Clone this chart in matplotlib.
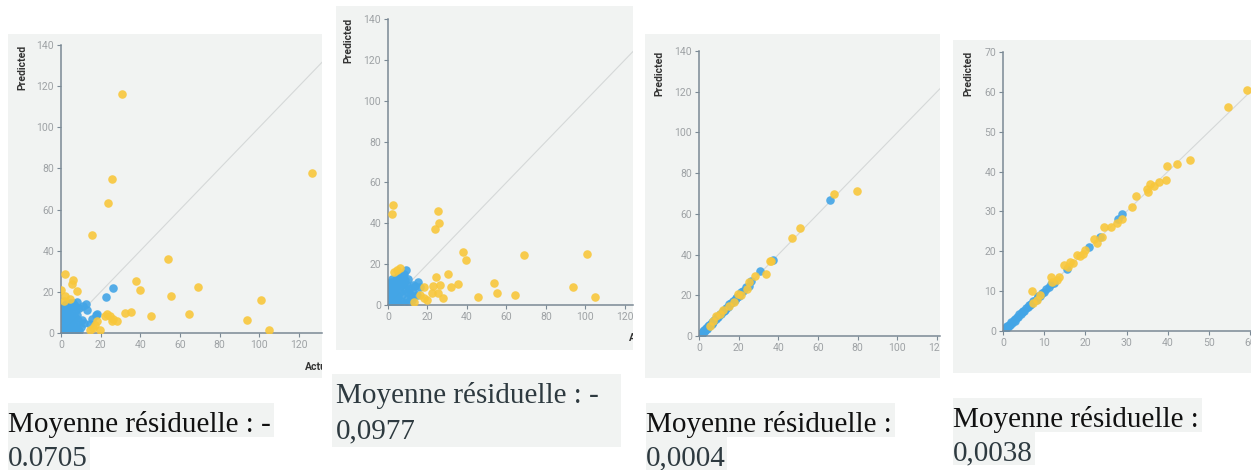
import matplotlib.pyplot as plt
from matplotlib.patches import Rectangle
from matplotlib.transforms import Bbox, TransformedBbox

# panel 1 (actual vs predicted)
p1_yel_x = [30.6, 126.6, 25.7, 23.9, 15.6, 54.1, 2.2, 6.3, 5.5, 8.0,
            0.0, 2.2, 4.7, 1.3, 38.0, 39.7, 69.1, 55.6, 100.8, 64.4,
            45.5, 35.5, 32.2, 93.6, 105.0, 22.2, 24.7, 25.5, 28.0, 18.0,
            19.7, 16.3, 14.7, 23.0, 26.0, 17.0]
p1_yel_y = [116.2, 77.8, 75.0, 63.0, 47.6, 36.0, 28.7, 25.9, 23.8, 20.5,
            21.0, 18.0, 16.4, 15.6, 25.4, 21.0, 22.2, 18.1, 16.0, 9.4,
            8.2, 10.3, 9.8, 6.3, 1.5, 8.2, 8.2, 5.7, 5.7, 5.7,
            1.6, 2.5, 1.6, 9.0, 7.0, 4.0]
p1_blue_x = [0.2, 0.5, 0.9, 1.3, 1.8, 2.2, 2.7, 3.1, 3.6, 4.0,
             4.5, 5.0, 5.6, 6.1, 6.7, 7.3, 7.9, 8.6, 9.3, 10.1,
             0.4, 1.0, 1.6, 2.3, 2.9, 3.5, 4.2, 4.9, 5.7, 6.5,
             7.4, 8.3, 9.2, 10.5, 11.6, 0.7, 1.5, 2.5, 3.4, 4.4,
             5.3, 6.3, 7.2, 8.1, 2.0, 3.8, 5.5, 7.0, 8.8, 12.6,
             14.5, 15.8, 17.5, 18.3, 11.0, 13.2, 22.7, 26.4, 0.3, 1.2]
p1_blue_y = [0.3, 1.2, 0.6, 2.0, 0.9, 3.1, 1.5, 4.2, 2.3, 0.8,
             5.0, 2.8, 1.1, 6.2, 3.4, 0.7, 4.5, 2.1, 1.0, 3.0,
             5.8, 7.4, 9.0, 10.5, 8.2, 11.6, 9.6, 12.8, 10.4, 13.5,
             11.2, 8.6, 12.0, 6.5, 4.8, 11.8, 13.2, 14.0, 12.5, 14.5,
             13.6, 14.8, 12.9, 15.0, 6.8, 7.8, 7.0, 8.0, 6.2, 14.3,
             4.2, 6.8, 8.8, 9.2, 13.0, 11.0, 17.5, 21.9, 9.8, 4.3]

# panel 2
p2_yel_x = [2.7, 2.0, 25.5, 26.0, 23.8, 38.0, 39.7, 68.8, 100.6, 30.5,
            24.2, 35.5, 31.7, 26.3, 22.7, 53.5, 55.4, 64.2, 45.5, 93.5,
            104.8, 28.0, 25.5, 22.2, 19.7, 18.0, 16.0, 13.0, 3.0, 4.7,
            6.0, 18.0]
p2_yel_y = [48.8, 44.5, 46.0, 40.3, 37.4, 25.7, 22.0, 24.6, 25.0, 15.4,
            13.8, 10.1, 8.9, 9.8, 9.3, 10.6, 5.7, 4.7, 4.1, 8.6,
            3.9, 3.3, 5.7, 5.7, 2.4, 8.9, 4.9, 1.6, 16.3, 17.0,
            17.9, 3.3]
p2_blue_x = [0.2, 0.6, 1.0, 1.5, 2.0, 2.5, 3.0, 3.5, 4.1, 4.7,
             5.3, 5.9, 6.5, 7.2, 7.9, 8.6, 9.4, 10.2, 11.0, 12.0,
             0.4, 1.2, 1.9, 2.7, 3.4, 4.2, 5.0, 5.8, 6.7, 7.6,
             8.5, 9.5, 10.6, 12.5, 13.8, 15.2, 16.0, 0.8, 1.7, 2.9,
             4.0, 5.2, 6.3, 7.4, 8.1, 9.0, 3.6, 6.0, 8.0, 11.5,
             0.3, 1.4, 2.2, 14.5, 10.0, 12.8, 4.5, 7.0, 9.8, 1.0]
p2_blue_y = [0.5, 2.0, 0.9, 3.2, 1.4, 4.4, 0.6, 2.6, 5.5, 1.2,
             3.8, 6.6, 2.0, 4.9, 0.8, 7.6, 3.0, 1.5, 5.6, 2.4,
             6.0, 7.8, 9.2, 10.4, 8.4, 11.0, 9.8, 12.2, 10.8, 13.5,
             12.0, 9.6, 8.0, 6.8, 9.2, 11.4, 8.6, 10.6, 4.8, 7.0,
             12.5, 14.0, 13.0, 15.0, 15.4, 17.0, 6.2, 8.8, 10.2, 3.6,
             8.0, 11.5, 12.8, 5.0, 12.5, 10.0, 3.0, 11.8, 6.5, 10.2]

# panel 3
p3_yel_x = [79.9, 67.9, 50.9, 46.7, 35.7, 36.5, 34.0, 28.1, 25.3, 19.9,
            21.0, 17.5, 12.0, 10.5, 8.5, 7.0, 5.5, 24.0, 15.0]
p3_yel_y = [71.3, 69.7, 53.1, 47.9, 36.7, 37.0, 30.5, 29.7, 26.4, 20.7,
            20.0, 16.5, 12.8, 11.0, 9.6, 7.2, 5.0, 23.0, 14.5]
p3_blue_x = [0.1, 0.4, 0.7, 1.0, 1.3, 1.7, 2.0, 2.4, 2.8, 3.2,
             3.6, 4.0, 4.5, 5.0, 5.5, 6.0, 6.6, 7.2, 7.8, 8.4,
             9.0, 9.7, 10.4, 11.1, 11.9, 12.7, 13.5, 14.4, 15.3, 16.2,
             17.1, 18.0, 19.0, 20.0, 21.2, 22.4, 23.6, 25.0, 26.1, 31.0,
             37.1, 66.1, 0.5, 1.5, 2.6, 3.8, 5.2, 6.4, 13.0, 18.5]
p3_blue_y = [0.3, 0.2, 0.9, 0.7, 1.5, 1.4, 2.3, 2.1, 3.0, 3.0,
             3.9, 3.8, 4.7, 4.8, 5.6, 5.9, 6.9, 6.9, 8.0, 8.2,
             9.3, 9.5, 10.7, 10.9, 12.2, 12.4, 13.8, 14.2, 15.6, 16.0,
             17.4, 17.8, 19.3, 19.8, 21.5, 22.2, 23.9, 24.7, 27.0, 31.8,
             37.5, 67.0, 0.8, 1.2, 2.9, 3.5, 5.5, 6.1, 12.8, 18.7]

# panel 4
p4_yel_x = [59.2, 54.6, 45.4, 42.2, 39.9, 39.6, 37.9, 36.7, 35.7, 34.9,
            35.1, 32.3, 31.3, 28.9, 27.6, 26.3, 24.6, 24.0, 22.8, 22.2,
            20.0, 19.4, 18.8, 17.9, 17.1, 16.3, 14.7, 15.7, 13.7, 11.6,
            13.1, 7.0, 7.3, 8.2, 9.0, 12.0]
p4_yel_y = [60.5, 56.1, 42.9, 42.0, 41.4, 37.8, 37.3, 36.5, 36.8, 35.6,
            34.8, 33.9, 31.2, 28.2, 27.2, 26.1, 26.1, 23.7, 22.2, 23.2,
            20.3, 19.3, 18.8, 19.0, 17.0, 17.4, 16.5, 16.1, 13.5, 13.5,
            12.8, 10.0, 6.9, 7.8, 9.0, 12.2]
p4_blue_x = [0.2, 0.5, 0.8, 1.1, 1.4, 1.7, 2.0, 2.3, 2.6, 3.0,
             3.3, 3.6, 4.0, 4.4, 4.8, 5.2, 5.6, 6.0, 6.4, 6.9,
             7.4, 7.9, 8.4, 8.9, 9.4, 9.9, 10.5, 11.1, 11.7, 12.3,
             15.5, 20.9, 23.6, 28.0, 29.0, 1.0, 2.8, 4.6, 6.6, 8.6]
p4_blue_y = [0.4, 0.3, 1.0, 0.9, 1.6, 1.5, 2.2, 2.1, 2.8, 2.9,
             3.5, 3.4, 4.2, 4.2, 5.0, 5.0, 5.8, 5.9, 6.6, 6.8,
             7.6, 7.8, 8.6, 8.8, 9.6, 9.8, 10.6, 11.0, 11.8, 12.1,
             15.5, 21.0, 23.6, 28.2, 29.3, 1.3, 2.6, 4.8, 6.4, 8.9]

captions = [["Moyenne résiduelle : -", "0.0705"],
            ["Moyenne résiduelle : -", "0,0977"],
            ["Moyenne résiduelle :", "0,0004"],
            ["Moyenne résiduelle :", "0,0038"]]

W, H = 1251, 470
plt.rcParams['font.family'] = ['Roboto', 'DejaVu Sans']
fig = plt.figure(figsize=(W / 100, H / 100), dpi=100)

YELLOW = '#f8c73c'
BLUE = '#43a5e6'
BG = '#f1f3f2'
AXC = '#7b8995'


def box(x0, y0, x1, y1, color=BG):
    fig.add_artist(Rectangle((x0 / W, 1 - y1 / H), (x1 - x0) / W, (y1 - y0) / H,
                             transform=fig.transFigure, color=color, lw=0, zorder=-2))


def panel(bg, left, bottom, top, xmax, ymax, xticks, yticks,
          yx, yy, bx, by, ylab_x, ylab_top, xlab=None):
    x0, y0, x1, y1 = bg
    box(x0, y0, x1, y1)
    clip = TransformedBbox(Bbox.from_extents(x0 / W, 1 - y1 / H, x1 / W, 1 - y0 / H),
                           fig.transFigure)
    ax = fig.add_axes([left / W, 1 - bottom / H, (x1 - left) / W, (bottom - top) / H])
    ax.set_facecolor('none')
    ax.plot([0, 200], [0, 200], color='#d5d8d8', lw=0.8, zorder=1)
    ax.scatter(bx, by, s=38, color=BLUE, alpha=0.9, lw=0, zorder=2)
    ax.scatter(yx, yy, s=38, color=YELLOW, alpha=0.9, lw=0, zorder=3)
    ax.set_xlim(0, xmax)
    ax.set_ylim(0, ymax)
    ax.set_xticks(xticks)
    ax.set_yticks(yticks)
    for s in ['top', 'right']:
        ax.spines[s].set_visible(False)
    for s in ['left', 'bottom']:
        ax.spines[s].set_color(AXC)
        ax.spines[s].set_linewidth(1.1)
    ax.tick_params(length=3, width=0.8, color=AXC, labelcolor='#9ea2a5',
                   labelsize=7.5, pad=2)
    for t in ax.get_xticklabels():
        t.set_clip_box(clip)
        t.set_clip_on(True)
    fig.text(ylab_x / W, 1 - ylab_top / H, 'Predicted', rotation=90, ha='center',
             va='top', fontsize=7.5, fontweight='bold', color='#333333')
    if xlab is not None:
        t = fig.text(xlab[0] / W, 1 - xlab[1] / H, 'Actual', ha='left', va='center',
                     fontsize=7.5, fontweight='bold', color='#333333')
        t.set_clip_box(clip)
        t.set_clip_on(True)


panel((8, 34, 322, 378), 61, 333, 45, 131.6, 140, range(0, 140, 20), range(0, 141, 20),
      p1_yel_x, p1_yel_y, p1_blue_x, p1_blue_y, 22, 45, xlab=(305, 367))
panel((336, 6, 633, 350), 388, 305, 19, 124.1, 140, range(0, 140, 20), range(0, 141, 20),
      p2_yel_x, p2_yel_y, p2_blue_x, p2_blue_y, 348, 18, xlab=(629, 338))
panel((645, 34, 940, 378), 699, 336, 51, 121.5, 140, range(0, 140, 20), range(0, 141, 20),
      p3_yel_x, p3_yel_y, p3_blue_x, p3_blue_y, 659, 51)
panel((953, 40, 1251, 373), 1003, 331, 52, 60.2, 70, range(0, 70, 10), range(0, 71, 10),
      p4_yel_x, p4_yel_y, p4_blue_x, p4_blue_y, 968, 51)

# caption highlights and text
box(8, 403, 274, 437)
box(8, 437, 90, 470)
box(332, 374, 621, 447)
box(646, 403, 895, 437)
box(646, 437, 727, 470)
box(953, 398, 1202, 432)
box(953, 432, 1035, 465)

cap_pos = [(8, 432, 466), (336, 403, 438), (646, 432, 465), (953, 427, 460)]
cap_col = [('#111111', '#2e3a40'), ('#2e3a40', '#2e3a40'),
           ('#111111', '#2e3a40'), ('#111111', '#2e3a40')]
for (x, b1, b2), (c1, c2), (l1, l2) in zip(cap_pos, cap_col, captions):
    fig.text(x / W, 1 - b1 / H, l1, family='Liberation Serif', fontsize=21,
             color=c1, va='baseline')
    fig.text(x / W, 1 - b2 / H, l2, family='Liberation Serif', fontsize=21,
             color=c2, va='baseline')

fig.savefig('out.png', dpi=100)
